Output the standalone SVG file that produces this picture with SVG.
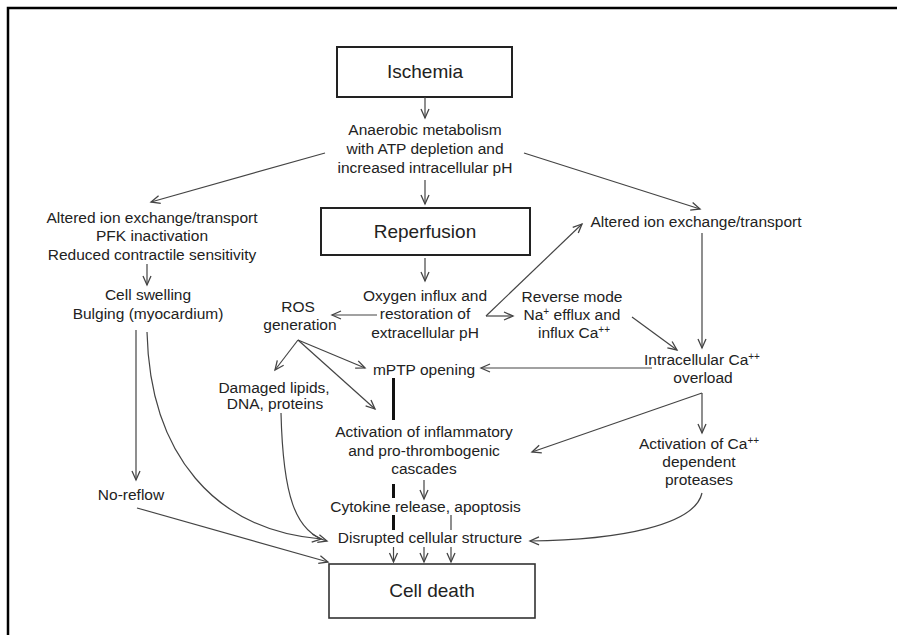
<svg xmlns="http://www.w3.org/2000/svg" width="897" height="635" viewBox="0 0 897 635">
<defs>
<marker id="ah" markerUnits="userSpaceOnUse" markerWidth="14" markerHeight="12" refX="10" refY="5" orient="auto" viewBox="0 0 14 12">
<path d="M1,1 L10,5 L1,9" fill="none" stroke="#444" stroke-width="1.3"/>
</marker>
</defs>
<style>
text{font-family:"Liberation Sans",Arial,sans-serif;fill:#222;text-anchor:middle;font-size:15.5px}
.big{font-size:19px}
.box{fill:none;stroke:#222;stroke-width:2}
.ln{fill:none;stroke:#444;stroke-width:1.2}
.ar{fill:none;stroke:#444;stroke-width:1.2;marker-end:url(#ah)}
.thick{stroke:#111;stroke-width:3;fill:none}
.sup{font-size:10px}
</style>
<rect width="897" height="635" fill="#fff"/>
<!-- frame -->
<path d="M8,635 L8,8 L897,8" fill="none" stroke="#000" stroke-width="2.5"/>

<g id="ischemia"><rect class="box" x="337" y="47" width="175" height="50"/><text class="big" x="425" y="78">Ischemia</text></g>
<g id="anaerobic"><text x="425" y="135">Anaerobic metabolism</text><text x="425" y="154">with ATP depletion and</text><text x="425" y="173">increased intracellular pH</text></g>
<g id="reperfusion"><rect class="box" x="321" y="208" width="209" height="47"/><text class="big" x="425" y="238">Reperfusion</text></g>
<g id="left-altered"><text x="152" y="222.5">Altered ion exchange/transport</text><text x="152" y="241">PFK inactivation</text><text x="152" y="260">Reduced contractile sensitivity</text></g>
<g id="swelling"><text x="148" y="300">Cell swelling</text><text x="148" y="318.5">Bulging (myocardium)</text></g>
<g id="ros"><text x="298" y="311.5">ROS</text><text x="300" y="329.5">generation</text></g>
<g id="oxygen"><text x="425" y="300.5">Oxygen influx and</text><text x="425" y="319">restoration of</text><text x="425" y="338">extracellular pH</text></g>
<g id="reverse"><text x="572" y="301.5">Reverse mode</text><text x="572" y="320">Na<tspan class="sup" dy="-5">+</tspan><tspan dy="5"> efflux and</tspan></text><text x="574" y="338">influx Ca<tspan class="sup" dy="-5">++</tspan></text></g>
<g id="right-altered"><text x="696" y="226.5">Altered ion exchange/transport</text></g>
<g id="ca-overload"><text x="702" y="365">Intracellular Ca<tspan class="sup" dy="-5">++</tspan></text><text x="703" y="383">overload</text></g>
<g id="damaged"><text x="274" y="392.5">Damaged lipids,</text><text x="275" y="409">DNA, proteins</text></g>
<g id="mptp"><text x="424" y="375">mPTP opening</text></g>
<g id="inflammatory"><text x="424" y="436.5">Activation of inflammatory</text><text x="424" y="455.5">and pro-thrombogenic</text><text x="424" y="474">cascades</text></g>
<g id="proteases"><text x="699" y="449">Activation of Ca<tspan class="sup" dy="-5">++</tspan></text><text x="699" y="467">dependent</text><text x="699" y="485">proteases</text></g>
<g id="noreflow"><text x="131" y="500">No-reflow</text></g>
<g id="cytokine"><text x="425.5" y="511.5">Cytokine release, apoptosis</text></g>
<g id="disrupted"><text x="430" y="543">Disrupted cellular structure</text></g>
<g id="celldeath"><rect x="329" y="564" width="206" height="54" fill="none" stroke="#333" stroke-width="1.6"/><text class="big" x="432" y="597">Cell death</text></g>

<g id="connectors">
<line class="ar" x1="425" y1="97" x2="425" y2="118"/>
<line class="ar" x1="425" y1="180" x2="425" y2="204"/>
<line class="ar" x1="425" y1="258" x2="425" y2="281"/>
<line class="ar" x1="325" y1="153" x2="151" y2="202"/>
<line class="ar" x1="524" y1="153" x2="700" y2="209"/>
<line class="ar" x1="147" y1="264" x2="147" y2="285"/>
<line class="ar" x1="136" y1="330" x2="136" y2="480"/>
<path class="ar" d="M147,332 C150,455 215,530 321,539"/>
<path class="ar" d="M281,413 C283,495 295,532 327,541"/>
<line class="ar" x1="137" y1="508" x2="328" y2="562"/>
<line class="ar" x1="377" y1="315" x2="332" y2="315"/>
<line class="ar" x1="298" y1="340" x2="275" y2="370"/>
<line class="ar" x1="298" y1="340" x2="365" y2="368"/>
<line class="ar" x1="298" y1="340" x2="375" y2="409"/>
<line class="ar" x1="486" y1="316" x2="582" y2="224"/>
<line class="ar" x1="486" y1="316" x2="513" y2="316"/>
<line class="ar" x1="632" y1="317" x2="677" y2="350"/>
<line class="ar" x1="702" y1="233" x2="702" y2="348"/>
<line class="ar" x1="652" y1="368" x2="481" y2="368"/>
<line class="ar" x1="702" y1="393" x2="532" y2="452"/>
<line class="ar" x1="702" y1="393" x2="702" y2="433"/>
<path class="ar" d="M702,493 C695,525 620,540 530,541"/>
<line class="thick" x1="393.5" y1="378" x2="393.5" y2="420"/>
<line class="thick" x1="393.5" y1="484" x2="393.5" y2="498"/>
<line class="thick" x1="393.5" y1="515" x2="393.5" y2="530"/>
<line class="ln" x1="451" y1="515" x2="451" y2="530"/>
<line class="ar" x1="424" y1="480" x2="424" y2="499"/>
<line class="ar" x1="393.5" y1="547" x2="393.5" y2="562"/>
<line class="ar" x1="424" y1="547" x2="424" y2="562"/>
<line class="ar" x1="451" y1="547" x2="451" y2="562"/>
</g>
</svg>
